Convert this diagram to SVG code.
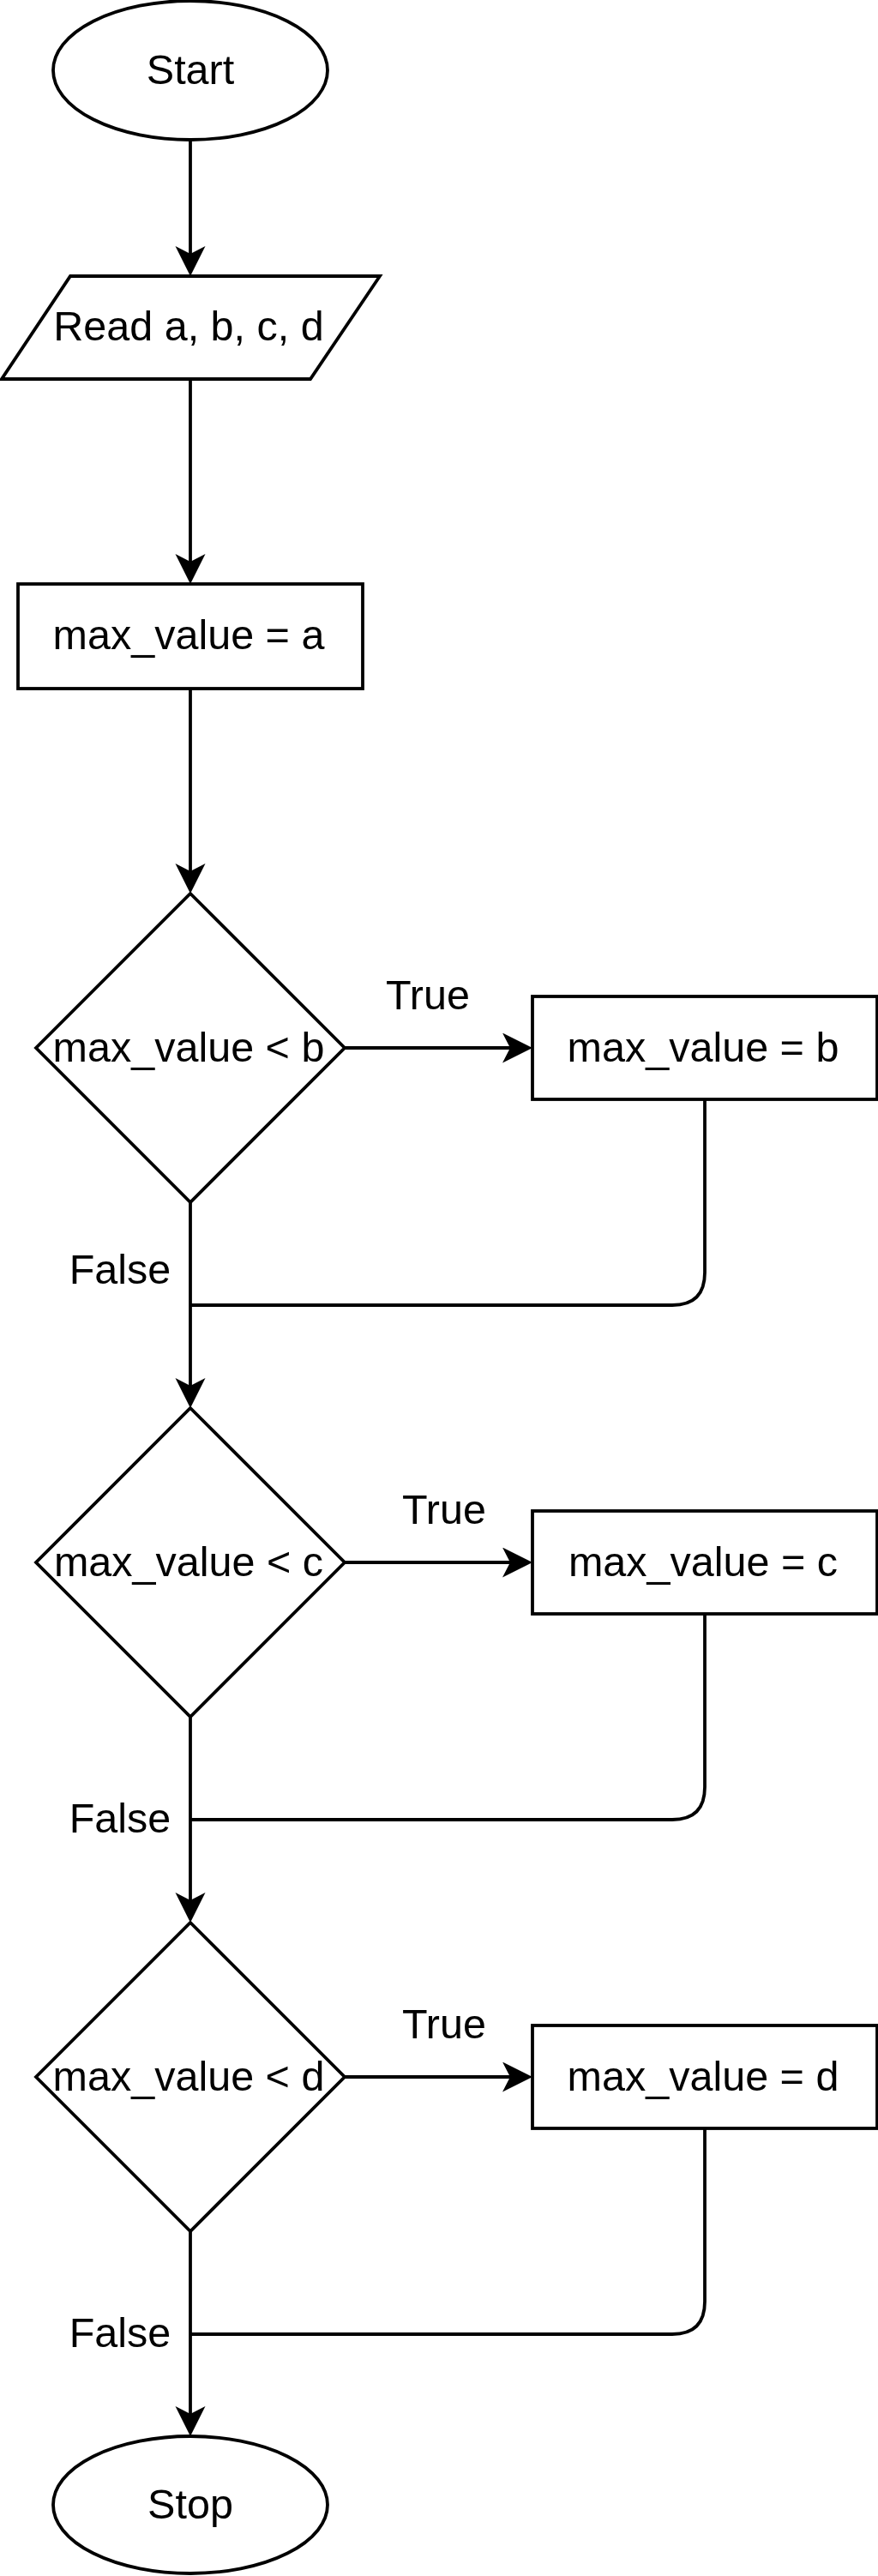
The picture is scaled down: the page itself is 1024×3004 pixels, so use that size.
<svg xmlns="http://www.w3.org/2000/svg" width="1024" height="3004" viewBox="0 0 1024 3004">
<style>
.s{fill:#fff;stroke:#000;stroke-width:3.8}
.c{fill:none;stroke:#000;stroke-width:3.8}
.t{font-family:"Liberation Sans",Arial,sans-serif;font-size:48.5px;fill:#000;text-anchor:middle}
</style>
<defs>
<marker id="ar" markerUnits="userSpaceOnUse" markerWidth="40" markerHeight="40" refX="9" refY="17.5" orient="auto" viewBox="0 0 40 40">
<path d="M0,0 L35,17.5 L0,35 L9,17.5 Z" fill="#000"/>
</marker>
</defs>
<g id="connectors">
<path class="c" d="M222,163 V296" marker-end="url(#ar)"/>
<path class="c" d="M222,442 V655" marker-end="url(#ar)"/>
<path class="c" d="M222,803 V1016" marker-end="url(#ar)"/>
<path class="c" d="M402,1222 H595" marker-end="url(#ar)"/>
<path class="c" d="M222,1402 V1616" marker-end="url(#ar)"/>
<path class="c" d="M822,1282 V1484 Q822,1522 784,1522 H222"/>
<path class="c" d="M402,1822 H595" marker-end="url(#ar)"/>
<path class="c" d="M222,2002 V2216" marker-end="url(#ar)"/>
<path class="c" d="M822,1882 V2084 Q822,2122 784,2122 H222"/>
<path class="c" d="M402,2422 H595" marker-end="url(#ar)"/>
<path class="c" d="M222,2602 V2815" marker-end="url(#ar)"/>
<path class="c" d="M822,2482 V2684 Q822,2722 784,2722 H222"/>
<text class="t" x="499" y="1177">True</text>
<text class="t" x="140" y="1497">False</text>
<text class="t" x="518" y="1777">True</text>
<text class="t" x="140" y="2137">False</text>
<text class="t" x="518" y="2377">True</text>
<text class="t" x="140" y="2737">False</text>
</g>
<g id="start"><ellipse class="s" cx="222" cy="82" rx="160" ry="81"/><text class="t" x="222" y="98">Start</text></g>
<g id="read"><polygon class="s" points="82,322 443,322 362,442 2,442"/><text class="t" x="220" y="397">Read a, b, c, d</text></g>
<g id="init"><rect class="s" x="21" y="681" width="402" height="122"/><text class="t" x="220" y="757">max_value = a</text></g>
<g id="dec_b"><polygon class="s" points="222,1042 402,1222 222,1402 42,1222"/><text class="t" x="220" y="1238">max_value &lt; b</text></g>
<g id="set_b"><rect class="s" x="621" y="1162" width="402" height="120"/><text class="t" x="820" y="1238">max_value = b</text></g>
<g id="dec_c"><polygon class="s" points="222,1642 402,1822 222,2002 42,1822"/><text class="t" x="220" y="1838">max_value &lt; c</text></g>
<g id="set_c"><rect class="s" x="621" y="1762" width="402" height="120"/><text class="t" x="820" y="1838">max_value = c</text></g>
<g id="dec_d"><polygon class="s" points="222,2242 402,2422 222,2602 42,2422"/><text class="t" x="220" y="2438">max_value &lt; d</text></g>
<g id="set_d"><rect class="s" x="621" y="2362" width="402" height="120"/><text class="t" x="820" y="2438">max_value = d</text></g>
<g id="stop"><ellipse class="s" cx="222" cy="2921" rx="160" ry="80"/><text class="t" x="222" y="2937">Stop</text></g>
</svg>
